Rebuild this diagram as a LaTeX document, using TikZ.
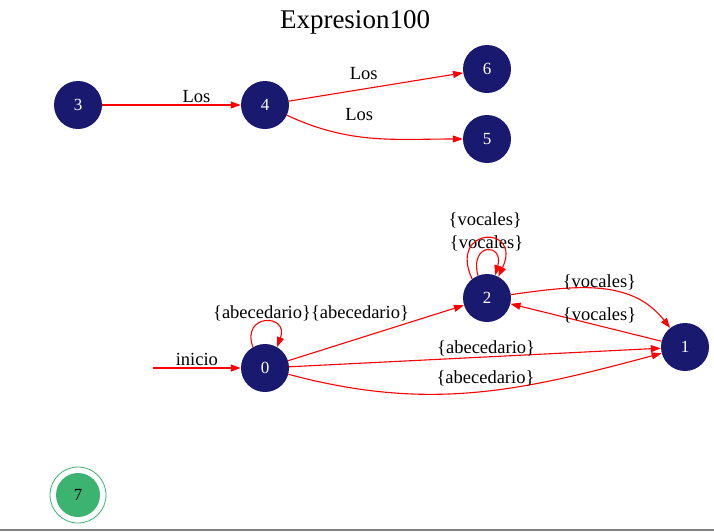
\documentclass[tikz,border=0pt]{standalone}
\usepackage{fontspec}
\setmainfont{Liberation Serif}
\usetikzlibrary{arrows.meta}

\definecolor{midnight}{HTML}{191970}
\definecolor{seagreen}{HTML}{3CB371}

\begin{document}
\begin{tikzpicture}[x=1pt, y=1pt,
  state/.style={circle, fill=midnight, text=white, minimum size=48pt, inner sep=0pt, font=\fontsize{17}{19}\selectfont},
  edge/.style={red, line width=1.1pt, -{Triangle[length=10pt,width=7pt]}},
  lbl/.style={font=\fontsize{18.5}{20}\selectfont, text=black, inner sep=1.5pt}]
  \useasboundingbox (0,0) rectangle (714,-531);
  \draw[gray, line width=2pt] (0,-530) -- (714,-530);

  \node[font=\fontsize{27}{30}\selectfont] (title) at (355,-22) {Expresion100};

  \node[state] (n3) at (78,-105) {3};
  \node[state] (n4) at (265,-105) {4};
  \node[state] (n6) at (487,-69) {6};
  \node[state] (n5) at (487,-139) {5};
  \node[state] (n2) at (487,-298) {2};
  \node[state] (n1) at (685,-347) {1};
  \node[state] (n0) at (265,-368) {0};
  \node[circle, fill=seagreen, minimum size=44pt, inner sep=0pt, font=\fontsize{17}{19}\selectfont] (n7) at (78,-495) {7};
  \draw[seagreen, line width=0.8pt] (n7.center) circle (28pt);

  \coordinate (start) at (153,-368);

  % upper part
  \draw[edge] (n3) -- node[lbl, above, pos=0.68] {Los} (n4);
  \draw[edge] (n4) -- node[lbl, above=7pt, pos=0.43] {Los} (n6);
  \draw[edge] (n4) to[out=-25, in=180] node[lbl, above=14pt, pos=0.42] {Los} (n5);

  % lower part
  \draw[edge] (start) -- node[lbl, above, pos=0.5] {inicio} (n0);
  \draw[edge] (n0.120) .. controls +(110:36) and +(70:36) .. node[lbl, above=-1pt, pos=0.5, xshift=46pt] {\{abecedario\}\{abecedario\}} (n0.60);
  \draw[edge] (n0) -- (n2);
  \draw[edge] (n0) -- node[lbl, above=-1pt, pos=0.53] {\{abecedario\}} (n1);
  \draw[edge] (n0) to[out=-15, in=195] node[lbl, above=3pt, pos=0.53] {\{abecedario\}} (n1);
  \draw[edge] (n2.112) .. controls +(105:34) and +(75:34) .. node[lbl, above=-2pt, pos=0.5] {\{vocales\}} (n2.70);
  \draw[edge] (n2.128) .. controls +(115:58) and +(65:58) .. node[lbl, above=8pt, pos=0.5] {\{vocales\}} (n2.62);
  \draw[edge] (n2) to[out=8, in=128] node[lbl, above=-3pt, pos=0.5] {\{vocales\}} (n1);
  \draw[edge] (n1) -- node[lbl, above=1pt, pos=0.41] {\{vocales\}} (n2);
\end{tikzpicture}
\end{document}
